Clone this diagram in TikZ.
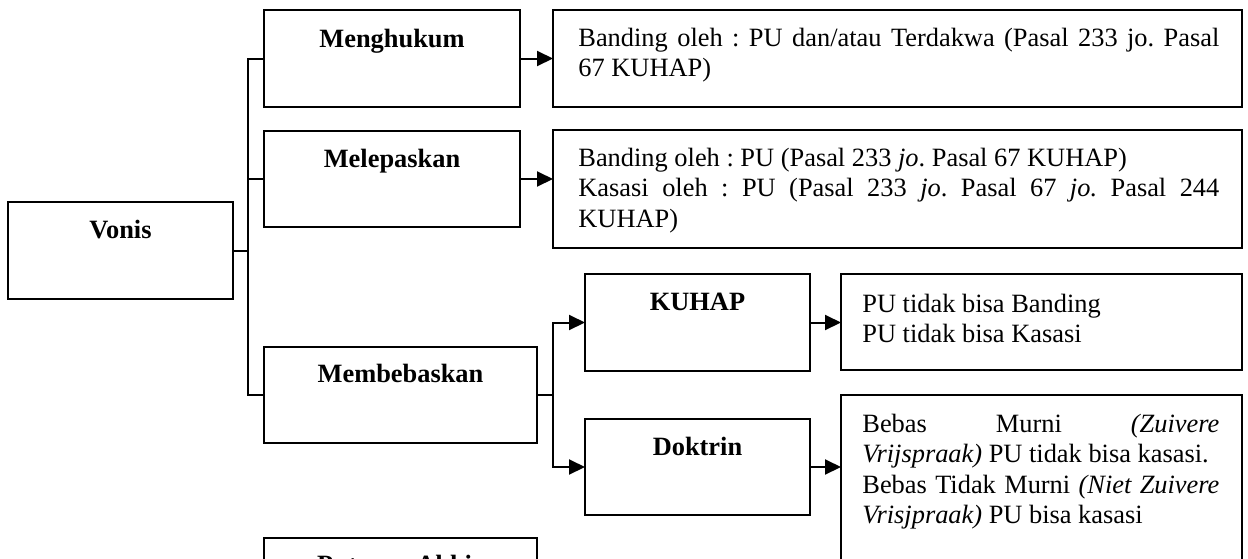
\documentclass[tikz,border=0pt]{standalone}
\usepackage{fontspec}
\setmainfont{Liberation Serif}
\usetikzlibrary{arrows.meta,calc}
\newcommand\pxu{0.5pt}
\frenchspacing
\tikzset{
  box/.style={draw=black, line width=1pt, rectangle, inner sep=0pt, outer sep=0pt},
  lbl/.style={inner sep=0pt, font=\fontsize{13.2pt}{15.25pt}\selectfont\bfseries},
  para/.style={inner sep=0pt, font=\fontsize{13.2pt}{15.25pt}\selectfont\frenchspacing},
  conn/.style={draw=black, line width=1pt},
  arrow/.style={conn, -{Triangle[length=8pt,width=7.5pt]}}
}
\begin{document}
\begin{tikzpicture}[x=0.5pt, y=-0.5pt]
\useasboundingbox (0,0) rectangle (1248,558);
\clip (0,0) rectangle (1248,558);

% boxes
\node[box, minimum width=225*\pxu, minimum height=97*\pxu] (vonis) at (120.5,250.5) {};
\node[box, minimum width=256*\pxu, minimum height=97*\pxu] (menghukum) at (392,58.5) {};
\node[box, minimum width=256*\pxu, minimum height=96*\pxu] (melepaskan) at (392,179) {};
\node[box, minimum width=273*\pxu, minimum height=96*\pxu] (membebaskan) at (400.5,395) {};
\node[box, minimum width=273*\pxu, minimum height=96*\pxu] (putusan) at (400.5,586) {};
\node[box, minimum width=225*\pxu, minimum height=97*\pxu] (kuhap) at (697.5,322.5) {};
\node[box, minimum width=225*\pxu, minimum height=96*\pxu] (doktrin) at (697.5,467) {};
\node[box, minimum width=689*\pxu, minimum height=97*\pxu] (res1) at (897.5,58.5) {};
\node[box, minimum width=689*\pxu, minimum height=118*\pxu] (res2) at (897.5,189) {};
\node[box, minimum width=401*\pxu, minimum height=96*\pxu] (res3) at (1041.5,322) {};
\node[box, minimum width=401*\pxu, minimum height=200*\pxu] (res4) at (1041.5,495) {};

% box titles
\node[lbl, anchor=base] (vonisL) at ($(vonis.north)+(0,36)$) {Vonis};
\node[lbl, anchor=base] (menghukumL) at ($(menghukum.north)+(0,37)$) {Menghukum};
\node[lbl, anchor=base] (melepaskanL) at ($(melepaskan.north)+(0,36)$) {Melepaskan};
\node[lbl, anchor=base] (membebaskanL) at ($(membebaskan.north)+(0,35)$) {Membebaskan};
\node[lbl, anchor=base] (putusanL) at ($(putusan.north)+(0,35)$) {Putusan Akhir};
\node[lbl, anchor=base] (kuhapL) at ($(kuhap.north)+(0,36)$) {KUHAP};
\node[lbl, anchor=base] (doktrinL) at ($(doktrin.north)+(0,36)$) {Doktrin};

% descriptions
\node[para, anchor=base west] (res1T) at ($(res1.north west)+(25,36)$)
  {\parbox[t]{320.5pt}{\makebox[\linewidth][s]{Banding oleh : PU dan/atau Terdakwa (Pasal 233 jo. Pasal}\\
   67 KUHAP)}};
\node[para, anchor=base west] (res2T) at ($(res2.north west)+(25,36)$)
  {\parbox[t]{320.5pt}{Banding oleh : PU (Pasal 233 \textit{jo}. Pasal 67 KUHAP)\\
   \makebox[\linewidth][s]{Kasasi oleh : PU (Pasal 233 \textit{jo}. Pasal 67 \textit{jo.} Pasal 244}\\
   KUHAP)}};
\node[para, anchor=base west] (res3T) at ($(res3.north west)+(21,38)$)
  {\parbox[t]{178.5pt}{PU tidak bisa Banding\\ PU tidak bisa Kasasi}};
\node[para, anchor=base west] (res4T) at ($(res4.north west)+(21,37)$)
  {\parbox[t]{178.5pt}{\makebox[\linewidth][s]{Bebas Murni \textit{(Zuivere}}\\
   \textit{Vrijspraak)} PU tidak bisa kasasi.\\
   \makebox[\linewidth][s]{Bebas Tidak Murni \textit{(Niet Zuivere}}\\
   \textit{Vrisjpraak)} PU bisa kasasi}};

% connectors
\coordinate (trunk) at (248,0);
\coordinate (split) at (553,0);
\draw[conn] (vonis.east) -- (vonis.east -| trunk);
\draw[conn] (menghukum.west) -- (menghukum.west -| trunk) -- (membebaskan.west -| trunk) -- (membebaskan.west);
\draw[conn] (melepaskan.west) -- (melepaskan.west -| trunk);
\draw[arrow] (menghukum.east) -- (menghukum.east -| res1.west);
\draw[arrow] (melepaskan.east) -- (melepaskan.east -| res2.west);
\draw[conn] (membebaskan.east) -- (membebaskan.east -| split);
\draw[arrow] (membebaskan.east -| split) |- (kuhap.west);
\draw[arrow] (membebaskan.east -| split) |- (doktrin.west);
\draw[arrow] (kuhap.east) -- (kuhap.east -| res3.west);
\draw[arrow] (doktrin.east) -- (doktrin.east -| res4.west);
\end{tikzpicture}
\end{document}
